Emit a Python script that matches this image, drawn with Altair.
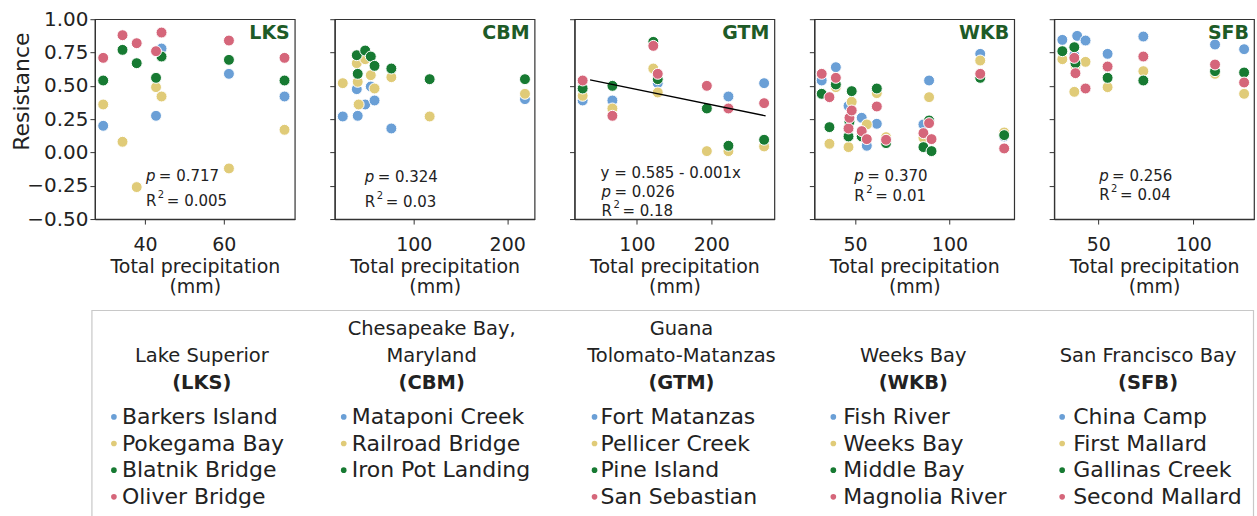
import altair as alt
import pandas as pd

FONT = "DejaVu Sans"
TXT = "#222222"
site_colors = ["#6a9fd6", "#e0cb78", "#177a32", "#d5667a"]
label_green = "#1e5b27"

# ---------------- data ----------------
# site index: 0 blue, 1 yellow, 2 green, 3 red (order as in the legend)
lks_precip = [29.4, 29.4, 29.4, 29.4, 34.3, 34.3, 34.3, 37.9, 37.9, 37.9,
              42.8, 42.8, 42.8, 42.8, 44.2, 44.2, 44.2, 44.2,
              61.3, 61.3, 61.3, 61.3, 75.4, 75.4, 75.4, 75.4]
lks_site = [0, 1, 2, 3, 1, 2, 3, 1, 2, 3,
            0, 1, 2, 3, 0, 1, 2, 3,
            0, 1, 2, 3, 0, 1, 2, 3]
lks_resist = [0.20, 0.36, 0.54, 0.71, 0.08, 0.77, 0.88, -0.26, 0.67, 0.82,
              0.275, 0.49, 0.56, 0.76, 0.78, 0.42, 0.72, 0.90,
              0.59, -0.12, 0.695, 0.84, 0.42, 0.17, 0.54, 0.71]

cbm_precip = [24, 24, 39, 39, 39, 40, 40, 40, 41, 48, 48, 48,
              54, 54, 54, 58, 58, 58, 76, 76, 76, 117, 117, 219, 219, 219]
cbm_site = [0, 1, 0, 1, 2, 0, 1, 2, 1, 0, 1, 2,
            0, 1, 2, 0, 1, 2, 0, 1, 2, 1, 2, 0, 1, 2]
cbm_resist = [0.27, 0.52, 0.475, 0.67, 0.73, 0.275, 0.53, 0.59, 0.36, 0.36, 0.70, 0.765,
              0.495, 0.58, 0.72, 0.39, 0.48, 0.65, 0.18, 0.565, 0.63, 0.27, 0.55, 0.40, 0.44, 0.55]

gtm_precip = [27, 27, 27, 27, 67, 67, 67, 67, 122, 122, 122,
              128, 128, 128, 128, 194, 194, 194, 223, 223, 223, 223, 271, 271, 271, 271]
gtm_site = [0, 1, 2, 3, 0, 1, 2, 3, 1, 2, 3,
            0, 1, 2, 3, 1, 2, 3, 0, 1, 2, 3, 0, 1, 2, 3]
gtm_resist = [0.39, 0.425, 0.48, 0.54, 0.39, 0.33, 0.50, 0.275, 0.63, 0.83, 0.80,
              0.52, 0.45, 0.55, 0.59, 0.01, 0.33, 0.50, 0.42, 0.01, 0.05, 0.33, 0.52, 0.045, 0.095, 0.37]
gtm_fit_x = [37, 273]
gtm_fit_y = [0.545, 0.275]

wkb_precip = [32.3, 32.3, 32.3, 36.4, 36.4, 36.4, 39.8, 39.8, 39.8, 39.8,
              46.5, 46.5, 46.5, 46.5, 47.0, 47.0, 48.2, 48.2, 48.2,
              53.5, 53.5, 53.5, 56.2, 56.2, 56.2, 61.5, 61.5, 61.5, 61.5,
              66.4, 66.4, 66.4, 86.2, 86.2, 86.2, 86.2, 89.2, 89.2, 89.2, 89.2,
              90.5, 90.5, 116.3, 116.3, 116.3, 116.3, 129, 129, 129, 129]
wkb_site = [0, 2, 3, 1, 2, 3, 0, 1, 2, 3,
            0, 1, 2, 3, 2, 3, 1, 2, 3,
            0, 2, 3, 0, 1, 3, 0, 1, 2, 3,
            1, 2, 3, 0, 1, 2, 3, 0, 1, 2, 3,
            2, 3, 0, 1, 2, 3, 0, 1, 2, 3]
wkb_resist = [0.54, 0.44, 0.59, 0.065, 0.19, 0.415, 0.64, 0.49, 0.51, 0.56,
              0.35, 0.04, 0.12, 0.18, 0.23, 0.26, 0.38, 0.46, 0.315,
              0.26, 0.12, 0.16, 0.05, 0.21, 0.10, 0.215, 0.445, 0.48, 0.345,
              0.115, 0.07, 0.095, 0.21, 0.11, 0.04, 0.145, 0.54, 0.415, 0.24, 0.22,
              0.01, 0.10, 0.74, 0.69, 0.56, 0.59, 0.12, 0.15, 0.13, 0.03]

sfb_precip = [31.1, 31.1, 31.1, 37.4, 37.4, 37.4, 37.4, 38.0, 38.0, 38.0, 38.9,
              43.3, 43.3, 43.3, 54.9, 54.9, 54.9, 54.9, 73.7, 73.7, 73.7, 73.7,
              111.4, 111.4, 111.4, 111.4, 126.7, 126.7, 126.7, 126.7]
sfb_site = [0, 1, 2, 0, 1, 2, 3, 1, 2, 3, 0,
            0, 1, 3, 0, 1, 2, 3, 0, 1, 2, 3,
            0, 1, 2, 3, 0, 1, 2, 3]
sfb_resist = [0.845, 0.70, 0.76, 0.73, 0.455, 0.79, 0.71, 0.65, 0.67, 0.595, 0.875,
              0.84, 0.68, 0.48, 0.74, 0.49, 0.56, 0.645, 0.87, 0.61, 0.54, 0.72,
              0.81, 0.59, 0.61, 0.66, 0.775, 0.44, 0.60, 0.525]

estuary_codes = ["LKS", "CBM", "GTM", "WKB", "SFB"]
estuary_names = [["Lake Superior"], ["Chesapeake Bay,", "Maryland"], ["Guana", "Tolomato-Matanzas"],
                 ["Weeks Bay"], ["San Francisco Bay"]]
site_names = [["Barkers Island", "Pokegama Bay", "Blatnik Bridge", "Oliver Bridge"],
              ["Mataponi Creek", "Railroad Bridge", "Iron Pot Landing"],
              ["Fort Matanzas", "Pellicer Creek", "Pine Island", "San Sebastian"],
              ["Fish River", "Weeks Bay", "Middle Bay", "Magnolia River"],
              ["China Camp", "First Mallard", "Gallinas Creek", "Second Mallard"]]
p_values = ["0.717", "0.324", "0.026", "0.370", "0.256"]
r2_values = ["0.005", "0.03", "0.18", "0.01", "0.04"]
gtm_equation = "y = 0.585  -  0.001x"

x_domains = [[27.3, 78.0], [15.4, 229.3], [16.1, 284.8], [28.4, 134.3], [26.8, 131.9]]
x_ticks = [[40, 60], [100, 200], [100, 200], [50, 100], [50, 100]]
# stats block placement inside each panel (px from plot left, px from plot top)
stats_x = [51, 30, 27, 40, 45]
stats_y = [[157, 182], [158, 183], [173, 192], [157, 177], [157, 176]]

W = 200
H = 200
y_ticks = [-0.5, -0.25, 0.0, 0.25, 0.5, 0.75, 1.0]
STAT_SIZE = 15


def one(txt):
    return pd.DataFrame({"t": [txt]})


def text_layer(txt, px, py, size=STAT_SIZE, italic=False, bold=False, color=TXT, align="left"):
    kw = dict(align=align, baseline="middle", font=FONT, fontSize=size, color=color)
    if italic:
        kw["fontStyle"] = "italic"
    if bold:
        kw["fontWeight"] = "bold"
    return alt.Chart(one(txt)).mark_text(**kw).encode(
        x=alt.value(px), y=alt.value(py), text="t:N")


def panel(i, precip, site, resist, fit=None):
    df = pd.DataFrame({"precip": precip, "site": site, "resist": resist})
    df = df.sort_values("site", kind="stable")
    xax = alt.Axis(values=x_ticks[i], title=["Total precipitation", "(mm)"],
                   labelFontSize=19, titleFontSize=19, labelPadding=11, titlePadding=3,
                   titleLineHeight=21, tickSize=5, grid=False, labelFlush=False)
    if i == 0:
        yax = alt.Axis(values=y_ticks, format=".2f", title="Resistance", titleFontSize=22,
                       labelFontSize=20, tickSize=5, labelPadding=2, grid=False,
                       titleX=-73, titleY=H / 2 - 28, titleBaseline="middle",
                       titleAlign="center", titleAngle=270)
    else:
        yax = alt.Axis(values=y_ticks, labels=False, title=None, tickSize=5, grid=False)
    x = alt.X("precip:Q", scale=alt.Scale(domain=x_domains[i], nice=False, zero=False), axis=xax)
    y = alt.Y("resist:Q", scale=alt.Scale(domain=[-0.5, 1.0], nice=False, zero=False), axis=yax)
    pts = alt.Chart(df).mark_circle(size=120, opacity=1, stroke="white", strokeWidth=1).encode(
        x=x, y=y,
        color=alt.Color("site:N", scale=alt.Scale(domain=[0, 1, 2, 3], range=site_colors), legend=None))
    layers = [pts]
    if fit is not None:
        fdf = pd.DataFrame({"precip": fit[0], "resist": fit[1]})
        layers.append(alt.Chart(fdf).mark_line(color="black", strokeWidth=1.3).encode(
            x="precip:Q", y="resist:Q"))
    sx = stats_x[i]
    py, ry = stats_y[i]
    if i == 2:
        layers.append(text_layer(gtm_equation, sx - 1, 154))
    layers += [
        text_layer("p", sx, py, italic=True),
        text_layer("= " + p_values[i], sx + 13, py),
        text_layer("R", sx, ry),
        text_layer("2", sx + 12, ry - 6, size=10),
        text_layer("= " + r2_values[i], sx + 21, ry),
        text_layer(estuary_codes[i], W - 5, 14, size=19, bold=True, color=label_green, align="right"),
    ]
    return alt.layer(*layers).properties(width=W, height=H)


panels = [
    panel(0, lks_precip, lks_site, lks_resist),
    panel(1, cbm_precip, cbm_site, cbm_resist),
    panel(2, gtm_precip, gtm_site, gtm_resist, fit=(gtm_fit_x, gtm_fit_y)),
    panel(3, wkb_precip, wkb_site, wkb_resist),
    panel(4, sfb_precip, sfb_site, sfb_resist),
]
row = alt.hconcat(*panels, spacing=40, bounds="flush")

# ---------------- legend block (origin = left edge of first panel) ----------------
LW = 1160
LH = 230
title_rows = []
for c, lines in enumerate(estuary_names):
    start = 2 - len(lines)
    for k, ln in enumerate(lines):
        title_rows.append({"col_c": c, "line": start + k, "t": ln})
title_df = pd.DataFrame(title_rows)
abbr_df = pd.DataFrame({"col_c": list(range(5)), "line": [2] * 5,
                        "t": ["(" + c + ")" for c in estuary_codes]})
item_rows = []
for c, names in enumerate(site_names):
    for k, nm in enumerate(names):
        item_rows.append({"col_d": c, "col_t": c, "item": k, "site": k, "t": nm})
item_df = pd.DataFrame(item_rows)

col_centers = [107, 337, 587, 819, 1054]
dot_x = [19, 249, 500, 739, 968]
text_x = [27, 257, 506, 749, 979]

tx_c = alt.X("col_c:Q", scale=alt.Scale(domain=[0, 1, 2, 3, 4], range=col_centers, zero=False, nice=False), axis=None)
ty_c = alt.Y("line:Q", scale=alt.Scale(domain=[0, 2], range=[19, 73], zero=False, nice=False), axis=None)
item_y = alt.Y("item:Q", scale=alt.Scale(domain=[0, 3], range=[107, 187], zero=False, nice=False), axis=None)

box = alt.Chart(one("box")).mark_rect(fill="transparent", stroke="#c8c8c8", strokeWidth=1.2).encode(
    x=alt.value(-3), x2=alt.value(LW - 0.5), y=alt.value(0.5), y2=alt.value(LH + 40))
titles = alt.Chart(title_df).mark_text(font=FONT, fontSize=19.5, color=TXT, baseline="middle", align="center").encode(
    x=tx_c, y=ty_c, text="t:N")
abbrs = alt.Chart(abbr_df).mark_text(font=FONT, fontSize=19.5, fontWeight="bold", color=TXT,
                                     baseline="middle", align="center").encode(x=tx_c, y=ty_c, text="t:N")
dots = alt.Chart(item_df).mark_circle(size=32, opacity=1).encode(
    x=alt.X("col_d:Q", scale=alt.Scale(domain=[0, 1, 2, 3, 4], range=dot_x, zero=False, nice=False), axis=None),
    y=item_y,
    color=alt.Color("site:N", scale=alt.Scale(domain=[0, 1, 2, 3], range=site_colors), legend=None))
names = alt.Chart(item_df).mark_text(font=FONT, fontSize=22, color=TXT, baseline="middle", align="left").encode(
    x=alt.X("col_t:Q", scale=alt.Scale(domain=[0, 1, 2, 3, 4], range=text_x, zero=False, nice=False), axis=None),
    y=item_y, text="t:N")

legend = alt.layer(box, titles, abbrs, dots, names).resolve_scale(
    x="independent", y="independent", color="independent").properties(
    width=LW, height=LH, view=alt.ViewBackground(stroke="transparent"))

chart = alt.vconcat(row, legend, spacing=11).properties(
    padding={"left": 10, "top": 8, "right": 2, "bottom": 0}
).configure_view(stroke="#333333", strokeWidth=1.2).configure_axis(
    domainColor="#333333", tickColor="#333333", labelColor=TXT, titleColor=TXT,
    labelFont=FONT, titleFont=FONT, titleFontWeight="normal", domainWidth=1.2
)

chart.save("out.html", embed_options={"renderer": "svg", "actions": False})
